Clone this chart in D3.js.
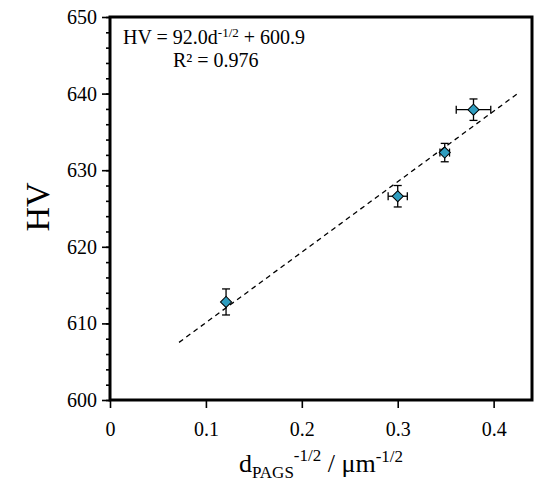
<!DOCTYPE html>
<html>
<head>
<meta charset="utf-8">
<script src="https://cdn.jsdelivr.net/npm/d3@7"></script>
<style>
  html, body { margin: 0; padding: 0; background: #fff; }
  svg { display: block; }
  text { font-family: "Liberation Serif", "Times New Roman", serif; fill: #000; }
</style>
</head>
<body>
<svg id="chart" width="547" height="487"></svg>
<script>
// ---- data ----
const xValues = [0.121, 0.300, 0.349, 0.379];
const hvValues = [612.8, 626.6, 632.3, 637.9];
const xErrors = [0.000, 0.010, 0.005, 0.018];
const hvErrors = [1.7, 1.4, 1.2, 1.4];
const fitSlope = 92.0;
const fitIntercept = 600.9;
const fitRange = [0.072, 0.426];
const xTicks = [0, 0.1, 0.2, 0.3, 0.4];
const yTicks = [600, 610, 620, 630, 640, 650];
const yMinorTicks = d3.range(600, 651, 2);

// ---- layout ----
const mLeft = 110, mRight = 532, mTop = 17, mBottom = 400;
const svg = d3.select("#chart");
const serif = "Liberation Serif, Times New Roman, serif";

const x = d3.scaleLinear().domain([0, 0.44]).range([mLeft, mRight]);
const y = d3.scaleLinear().domain([600, 650]).range([mBottom, mTop]);

// minor y ticks
svg.append("g")
  .attr("transform", `translate(${mLeft},0)`)
  .call(d3.axisLeft(y).tickValues(yMinorTicks).tickSize(4).tickFormat(""))
  .call(g => g.select(".domain").remove())
  .call(g => g.selectAll("line").attr("stroke", "#000").attr("stroke-width", 1.6));

// major y ticks
svg.append("g")
  .attr("transform", `translate(${mLeft},0)`)
  .call(d3.axisLeft(y).tickValues(yTicks).tickSize(8).tickPadding(5).tickFormat(d3.format("d")))
  .call(g => g.select(".domain").remove())
  .call(g => g.selectAll("line").attr("stroke", "#000").attr("stroke-width", 1.6))
  .call(g => g.selectAll("text").style("font-size", "20px").style("font-family", serif).attr("fill", "#000"));

// x ticks
svg.append("g")
  .attr("transform", `translate(0,${mBottom})`)
  .call(d3.axisBottom(x).tickValues(xTicks).tickSize(8).tickPadding(14)
    .tickFormat(d => d === 0 ? "0" : d3.format(".1f")(d)))
  .call(g => g.select(".domain").remove())
  .call(g => g.selectAll("line").attr("stroke", "#000").attr("stroke-width", 1.6))
  .call(g => g.selectAll("text").style("font-size", "20px").style("font-family", serif).attr("fill", "#000"));

// fit line
const fitLine = d3.line().x(d => x(d)).y(d => y(fitSlope * d + fitIntercept));
svg.append("path")
  .datum(fitRange)
  .attr("d", fitLine)
  .attr("fill", "none")
  .attr("stroke", "#000")
  .attr("stroke-width", 1.3)
  .attr("stroke-dasharray", "5,4");

// error bars
const pts = xValues.map((v, i) => ({ x: v, y: hvValues[i], ex: xErrors[i], ey: hvErrors[i] }));
const eb = svg.append("g").attr("stroke", "#000").attr("stroke-width", 1.3);
const cap = 4;
pts.forEach(p => {
  const cx = x(p.x), cy = y(p.y);
  eb.append("line").attr("x1", cx).attr("x2", cx).attr("y1", y(p.y - p.ey)).attr("y2", y(p.y + p.ey));
  eb.append("line").attr("x1", cx - cap).attr("x2", cx + cap).attr("y1", y(p.y - p.ey)).attr("y2", y(p.y - p.ey));
  eb.append("line").attr("x1", cx - cap).attr("x2", cx + cap).attr("y1", y(p.y + p.ey)).attr("y2", y(p.y + p.ey));
  if (p.ex > 0) {
    eb.append("line").attr("y1", cy).attr("y2", cy).attr("x1", x(p.x - p.ex)).attr("x2", x(p.x + p.ex));
    eb.append("line").attr("y1", cy - cap).attr("y2", cy + cap).attr("x1", x(p.x - p.ex)).attr("x2", x(p.x - p.ex));
    eb.append("line").attr("y1", cy - cap).attr("y2", cy + cap).attr("x1", x(p.x + p.ex)).attr("x2", x(p.x + p.ex));
  }
});

// diamonds
svg.append("g").selectAll("path")
  .data(pts)
  .join("path")
  .attr("d", d3.symbol().type(d3.symbolSquare).size(62))
  .attr("transform", d => `translate(${x(d.x)},${y(d.y)}) rotate(45)`)
  .attr("fill", "#2f9dbf")
  .attr("stroke", "#000")
  .attr("stroke-width", 1);

// frame
svg.append("rect")
  .attr("x", mLeft).attr("y", mTop)
  .attr("width", mRight - mLeft).attr("height", mBottom - mTop)
  .attr("fill", "none").attr("stroke", "#000").attr("stroke-width", 3);

// annotation
const ann = svg.append("text").attr("x", 123).attr("y", 44).style("font-size", "20px");
ann.append("tspan").text("HV = 92.0d");
ann.append("tspan").attr("dy", -7).style("font-size", "13px").text("-1/2");
ann.append("tspan").attr("dy", 7).text(" + 600.9");
svg.append("text").attr("x", 173).attr("y", 67).style("font-size", "20px").text("R² = 0.976");

// y label
svg.append("text")
  .attr("transform", "translate(49,207) rotate(-90)")
  .attr("text-anchor", "middle")
  .style("font-size", "34px")
  .text("HV");

// x label
const xl = svg.append("text").attr("x", 321).attr("y", 472).attr("text-anchor", "middle").style("font-size", "26px");
xl.append("tspan").text("d");
xl.append("tspan").attr("dy", 6).style("font-size", "17px").text("PAGS");
xl.append("tspan").attr("dy", -17).style("font-size", "17px").text("-1/2");
xl.append("tspan").attr("dy", 11).text(" / μm");
xl.append("tspan").attr("dy", -10).style("font-size", "17px").text("-1/2");
</script>
</body>
</html>
